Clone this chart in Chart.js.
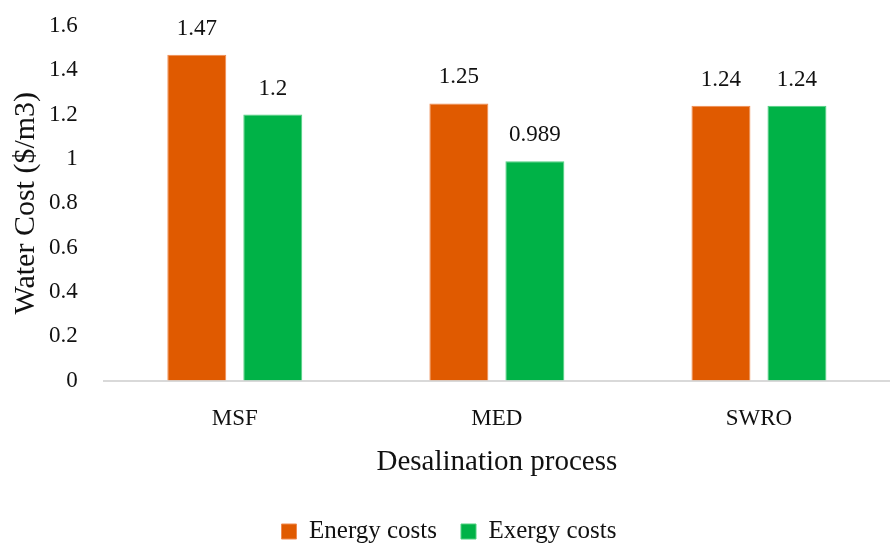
<!DOCTYPE html>
<html>
<head>
<meta charset="utf-8">
<script src="https://cdn.jsdelivr.net/npm/chart.js@4/dist/chart.umd.min.js"></script>
<style>
  html, body { margin: 0; padding: 0; background: #ffffff; }
  #wrap { width: 890px; height: 545px; position: relative; }
</style>
</head>
<body>
<div id="wrap"><canvas id="chart" width="890" height="545"></canvas></div>
<script>
const categories = ['MSF', 'MED', 'SWRO'];
const energyCosts = [1.47, 1.25, 1.24];
const exergyCosts = [1.2, 0.989, 1.24];
const yTicks = [0, 0.2, 0.4, 0.6, 0.8, 1, 1.2, 1.4, 1.6];

const FONT = '"Palatino Linotype", "Book Antiqua", Palatino, "Liberation Serif", serif';

// Writes each bar's value just above its top.
const valueLabels = {
  id: 'valueLabels',
  afterDatasetsDraw(chart) {
    const ctx = chart.ctx;
    ctx.save();
    ctx.font = '23px ' + FONT;
    ctx.fillStyle = '#111111';
    ctx.textAlign = 'center';
    ctx.textBaseline = 'middle';
    chart.data.datasets.forEach((ds, i) => {
      chart.getDatasetMeta(i).data.forEach((bar, j) => {
        ctx.fillText(String(ds.data[j]), bar.x, bar.y - 26);
      });
    });
    ctx.restore();
  }
};

new Chart(document.getElementById('chart'), {
  type: 'bar',
  data: {
    labels: categories,
    datasets: [
      { label: 'Energy costs', data: energyCosts, backgroundColor: '#E05A00', borderColor: '#F08A50', borderWidth: 1 },
      { label: 'Exergy costs', data: exergyCosts, backgroundColor: '#00B247', borderColor: '#50D080', borderWidth: 1 }
    ]
  },
  options: {
    responsive: false,
    animation: false,
    devicePixelRatio: 1,
    categoryPercentage: 0.58,
    barPercentage: 0.776,
    layout: { padding: { left: 8, right: 0, top: 0, bottom: -9 } },
    plugins: {
      legend: {
        position: 'bottom',
        labels: {
          font: { family: FONT, size: 25 },
          color: '#111111',
          boxWidth: 15,
          boxHeight: 15,
          padding: 24,
          useBorderRadius: false
        }
      },
      tooltip: { enabled: false }
    },
    scales: {
      x: {
        grid: { display: false, drawTicks: false },
        border: { display: true, color: '#d9d9d9', width: 2 },
        ticks: { font: { family: FONT, size: 23 }, color: '#111111', padding: 25 },
        title: {
          display: true,
          text: 'Desalination process',
          font: { family: FONT, size: 29 },
          color: '#111111',
          padding: { top: -13, bottom: 15 }
        }
      },
      y: {
        min: 0,
        max: 1.6,
        afterBuildTicks(axis) { axis.ticks = yTicks.map(v => ({ value: v })); },
        // the wide label gap should not push the plot top down
        afterFit(axis) {
          axis.paddingTop -= 14;
          axis.paddingBottom -= 14;
        },
        grid: { display: false, drawTicks: false },
        border: { display: false },
        ticks: {
          font: { family: FONT, size: 23 },
          color: '#111111',
          padding: 26,
          callback: v => String(v)
        },
        title: {
          display: true,
          text: 'Water Cost ($/m3)',
          font: { family: FONT, size: 30 },
          color: '#111111',
          padding: { top: 0, bottom: -21 }
        }
      }
    }
  },
  plugins: [valueLabels]
});
</script>
</body>
</html>
